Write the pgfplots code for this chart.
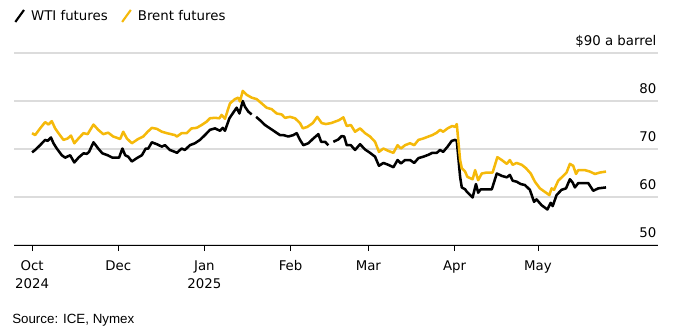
\documentclass[border=0pt]{standalone}
\usepackage{pgfplots}
\pgfplotsset{compat=1.18}
\usepackage{fontspec}
\setmainfont{DejaVu Sans}
\newfontfamily\srcfont{Liberation Sans}
\definecolor{brent}{RGB}{245,185,10}
\definecolor{gridc}{RGB}{220,220,220}
\begin{document}
\begin{tikzpicture}
\useasboundingbox (-10.5pt,-60.75pt) rectangle (499.5pt,183.75pt);
\begin{axis}[
  at={(0,0)}, anchor=south west,
  scale only axis, width=483pt, height=144pt,
  xmin=-6.5, xmax=225.2, ymin=50, ymax=90,
  separate axis lines,
  axis x line*=bottom, axis y line*=right,
  x axis line style={black, line width=0.7pt, -},
  y axis line style={draw=none},
  ytick={50,60,70,80,90},
  yticklabels={50,60,70,80,{\$90 a barrel}},
  ytick style={draw=none},
  ymajorgrids, grid style={gridc, line width=0.8pt},
  yticklabel style={anchor=base east, inner xsep=0pt, xshift=-5.5pt, yshift=6pt, font=\fontsize{10}{12}\selectfont},
  xtick={0,31,62,93,121,152,182},
  xticklabels={Oct\\2024,Dec,Jan\\2025,Feb,Mar,Apr,May},
  xticklabel style={align=center, font=\fontsize{10}{13.5}\selectfont, yshift=-3.5pt},
  xtick style={black, line width=0.6pt},
  tick align=outside, major tick length=4.5pt,
  /pgf/number format/assume math mode=true,
  unbounded coords=jump,
  legend style={at={(0,1.193)}, anchor=west, legend columns=-1, draw=none, fill=none,
    font=\fontsize{10}{12}\selectfont, inner xsep=0pt,
    /tikz/every odd column/.append style={column sep=2.5pt},
    /tikz/every even column/.append style={column sep=8pt}},
  legend image code/.code={\draw[#1, line width=1.6pt] (0pt,-4.5pt) -- (6.5pt,4.5pt);},
]
\addplot[black, line width=1.9pt, line join=round] table {
x y
0 69.3
1.1 69.8
2.9 70.8
4.7 71.9
5.6 71.7
6.8 72.4
7.7 71.2
8.9 70.1
10.7 68.7
11.9 68.2
13.7 68.7
15.2 67.2
16.7 68.2
18.5 69.1
19.7 69.0
20.5 69.4
22.1 71.4
23.8 70.1
25.3 69.1
27.2 68.7
28.9 68.2
31.3 68.2
32.5 70.1
33.5 68.7
34.6 68.4
35.9 67.4
37.7 68.1
39.5 68.7
40.9 70.1
41.8 70.1
43.1 71.4
44.9 71.0
46.7 70.5
47.8 70.8
49.6 69.8
51.4 69.4
52.1 69.2
53.8 70.1
55.0 69.8
56.8 70.8
58.6 71.2
60.4 71.9
62.2 72.9
64.0 74.0
65.8 74.3
67.6 73.8
68.6 74.4
69.4 73.8
71.0 76.4
72.4 77.6
73.6 78.6
74.6 77.4
75.8 80.0
76.6 78.8
77.8 77.8
79.0 77.2
79.8 nan
80.6 76.7
82.0 76.0
83.8 75.0
85.6 74.3
87.4 73.6
89.2 72.9
90.4 72.9
92.2 72.6
94.0 72.9
95.2 73.3
96.4 71.9
97.6 70.8
99.4 71.2
101.2 72.2
103.0 73.1
104.0 71.5
105.4 71.5
106.6 70.8
107.5 nan
108.4 71.5
110.2 72.0
111.4 72.7
112.3 72.6
113.2 70.8
114.7 70.8
116.2 69.8
118.0 71.0
119.8 69.9
121.6 69.2
123.4 68.4
124.8 66.5
126.4 67.1
128.2 66.7
130.0 66.2
131.5 67.7
132.7 67.0
134.2 67.7
136.0 67.7
137.5 67.1
139.0 68.1
140.8 68.4
142.6 68.8
144.0 69.2
145.6 69.2
146.8 69.8
147.9 69.4
149.5 70.5
151.0 71.7
152.2 71.9
152.8 71.7
154.0 64.2
154.6 62.0
155.8 61.6
156.4 61.1
158.5 59.9
159.7 62.7
160.5 60.9
161.4 61.6
163.6 61.6
165.4 61.6
167.2 64.9
169.0 64.4
170.8 64.1
171.9 64.6
172.9 63.4
174.3 63.2
175.8 62.7
177.3 62.5
179.1 61.5
180.6 59.0
181.5 59.5
183.3 58.3
185.4 57.4
186.6 58.8
187.3 58.1
188.7 60.4
190.5 61.5
192.1 61.8
193.5 63.7
194.5 63.0
195.3 62.0
196.5 62.9
198.3 62.9
200.1 62.9
201.9 61.3
203.7 61.8
206.5 62.0
};
\addlegendentry{WTI futures}
\addplot[brent, line width=1.9pt, line join=round] table {
x y
0 73.3
1.1 72.9
2.9 74.3
4.7 75.6
5.9 75.1
7.1 75.8
8.3 74.3
9.5 73.3
11.3 71.9
12.8 72.2
14.0 72.8
15.2 71.2
16.7 72.2
18.5 73.3
20.0 73.1
22.1 75.1
23.8 74.0
25.6 73.1
27.4 73.4
29.2 72.6
31.7 72.1
32.8 73.6
34.1 72.2
35.9 71.2
38.2 72.1
40.0 72.6
41.6 73.6
43.1 74.4
44.9 74.2
46.7 73.6
48.5 73.3
51.4 72.9
52.1 72.6
53.8 73.3
55.6 73.3
57.4 74.3
59.2 74.4
61.0 75.0
62.8 75.7
64.0 76.4
65.8 76.5
67.4 76.4
68.2 77.1
69.4 76.3
71.2 79.5
73.0 80.4
74.2 80.7
74.8 79.9
75.8 82.1
77.2 81.3
79.0 80.7
80.8 80.4
82.6 79.5
84.4 78.6
86.2 78.3
88.0 77.4
89.8 77.2
91.0 76.5
92.8 76.7
94.6 76.4
96.4 75.4
97.4 74.3
99.0 74.6
101.0 75.4
102.6 76.7
104.2 75.4
105.7 75.2
107.6 75.4
109.0 75.7
110.4 76.0
112.0 76.6
113.2 74.8
114.7 75.0
116.2 73.6
118.0 74.3
119.8 73.3
121.6 72.6
123.4 71.5
124.8 69.4
126.4 70.1
128.2 69.6
130.0 69.2
131.5 70.8
132.7 70.1
134.2 70.8
136.0 71.2
137.5 70.8
139.0 71.9
140.8 72.2
142.6 72.6
144.0 72.9
145.6 73.4
146.8 74.0
147.9 73.6
149.5 74.3
151.2 74.8
152.2 74.6
152.8 75.2
154.0 67.7
154.6 66.0
155.8 65.3
156.6 64.2
158.5 63.7
159.4 65.6
160.5 63.5
161.8 64.9
163.6 65.1
165.7 65.1
167.4 68.3
169.0 67.7
170.8 66.9
171.9 67.7
172.9 66.7
174.3 67.1
176.2 66.7
177.7 66.0
179.4 64.9
180.9 63.2
182.7 61.8
184.9 60.9
186.1 60.4
186.9 61.8
187.8 61.5
189.3 63.4
191.1 64.4
192.3 65.1
193.5 66.9
194.7 66.5
195.7 64.8
196.5 65.6
198.9 65.6
200.7 65.3
202.5 64.8
204.3 65.1
206.5 65.3
};
\addlegendentry{Brent futures}
\end{axis}
\node[anchor=base west, inner sep=0pt, font=\srcfont\fontsize{10}{12}\selectfont] at (-1.5pt,-59pt) {Source: ICE, Nymex};
\end{tikzpicture}
\end{document}
